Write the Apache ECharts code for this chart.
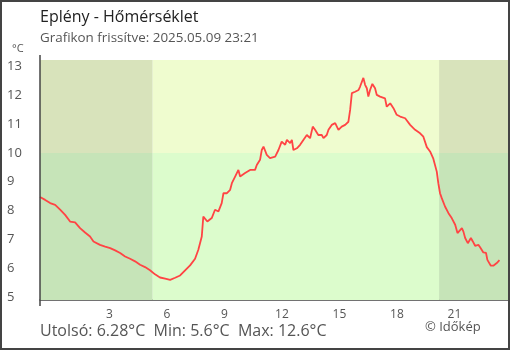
<!DOCTYPE html>
<html>
<head>
<meta charset="utf-8">
<script src="https://cdn.jsdelivr.net/npm/echarts@6/dist/echarts.min.js"></script>
<style>
  html, body { margin: 0; padding: 0; background: #fff; }
  #chart { width: 510px; height: 350px; }
</style>
</head>
<body>
<div id="chart"></div>
<script>
// Hours of the day (negative = previous evening) and temperature readings
const times = [
  -0.62, -0.35, -0.09, 0.17, 0.43, 0.69, 0.95, 1.21, 1.47, 1.73, 1.99, 2.17, 2.51, 2.78,
  3.04, 3.30, 3.56, 3.82, 4.08, 4.34, 4.60, 4.86, 5.12, 5.38, 5.64, 5.91, 6.17, 6.43,
  6.69, 6.95, 7.21, 7.47, 7.64, 7.82, 7.90, 7.99, 8.11, 8.34, 8.51, 8.69, 8.86, 8.95,
  9.12, 9.30, 9.39, 9.56, 9.73, 9.82, 10.08, 10.34, 10.60, 10.69, 10.86, 10.95, 11.04,
  11.21, 11.38, 11.65, 11.82, 11.99, 12.17, 12.26, 12.43, 12.52, 12.60, 12.78, 12.95,
  13.12, 13.30, 13.38, 13.47, 13.61, 13.73, 13.90, 14.08, 14.17, 14.34, 14.43, 14.60,
  14.78, 14.95, 15.12, 15.30, 15.47, 15.56, 15.65, 15.82, 15.91, 16.00, 16.08, 16.25,
  16.34, 16.43, 16.51, 16.60, 16.72, 16.86, 16.95, 17.12, 17.21, 17.38, 17.47, 17.65,
  17.82, 17.99, 18.17, 18.43, 18.69, 18.95, 19.21, 19.38, 19.56, 19.73, 19.90, 20.08,
  20.16, 20.25, 20.34, 20.51, 20.69, 20.86, 21.04, 21.16, 21.26, 21.39, 21.47, 21.56,
  21.70, 21.86, 21.96, 22.08, 22.25, 22.34, 22.51, 22.65, 22.72, 22.90, 23.03, 23.21, 23.35
];
const temps = [
  8.47, 8.37, 8.26, 8.20, 8.03, 7.85, 7.62, 7.59, 7.39, 7.24, 7.10, 6.93, 6.81, 6.75,
  6.70, 6.62, 6.53, 6.41, 6.33, 6.24, 6.12, 6.04, 5.93, 5.79, 5.68, 5.64, 5.60, 5.67,
  5.75, 5.93, 6.10, 6.33, 6.64, 7.10, 7.79, 7.83, 7.62, 7.74, 8.03, 7.97, 8.26, 8.60,
  8.60, 8.72, 8.95, 9.18, 9.41, 9.18, 9.30, 9.41, 9.41, 9.58, 9.76, 10.10, 10.22,
  9.93, 9.82, 9.87, 10.10, 10.39, 10.28, 10.45, 10.34, 10.45, 10.10, 10.16, 10.28,
  10.45, 10.62, 10.68, 10.51, 10.91, 10.80, 10.62, 10.62, 10.51, 10.62, 10.80, 10.97,
  11.03, 10.80, 10.91, 10.97, 11.08, 11.49, 12.07, 12.12, 12.07, 12.18, 12.30, 12.60,
  12.36, 12.24, 11.95, 12.18, 12.39, 12.24, 12.01, 11.95, 12.01, 11.89, 11.60, 11.72,
  11.55, 11.32, 11.26, 11.20, 10.97, 10.80, 10.68, 10.56, 10.20, 10.05, 9.80, 9.35,
  8.95, 8.60, 8.43, 8.14, 7.91, 7.74, 7.51, 7.22, 7.27, 7.39, 7.27, 7.05,
  6.87, 7.05, 6.93, 6.78, 6.81, 6.73, 6.55, 6.53, 6.29, 6.09, 6.09, 6.18, 6.28
];
const hourTicks = [3, 6, 9, 12, 15, 18, 21];
const tempTicks = [5, 6, 7, 8, 9, 10, 11, 12, 13];
const sunrise = 5.26;
const sunset = 20.2;
const warmLimit = 10;

const xMin = -0.62, xMax = 23.9;
const yMin = 4.9, yMax = 13.22;

const last = temps[temps.length - 1];
const minT = Math.min(...temps);
const maxT = Math.max(...temps);

const FONT = '"Open Sans", "Noto Sans", sans-serif';
const AXIS = '#444';

const chart = echarts.init(document.getElementById('chart'), null, { renderer: 'canvas' });

const band = (x0, x1, y0, y1, color) => [
  { coord: [x0, y0], itemStyle: { color: color } },
  { coord: [x1, y1] }
];

chart.setOption({
  animation: false,
  textStyle: { fontFamily: FONT },
  grid: { left: 40, right: 0, top: 60, bottom: 50, outerBoundsMode: 'none' },
  xAxis: {
    type: 'value', min: xMin, max: xMax,
    splitLine: { show: false },
    axisLine: { show: true, lineStyle: { color: AXIS, width: 1.5 } },
    axisTick: { show: true, inside: true, length: 6, customValues: hourTicks, lineStyle: { color: AXIS, width: 1 } },
    axisLabel: { customValues: hourTicks, color: '#555', fontSize: 12, margin: 9, fontFamily: FONT }
  },
  yAxis: [
    {
      type: 'value', min: yMin, max: yMax,
      splitLine: { show: false },
      axisLine: { show: false },
      axisTick: { show: true, inside: false, length: 6, customValues: tempTicks, lineStyle: { color: AXIS, width: 1 } },
      axisLabel: { customValues: tempTicks, color: '#555', fontSize: 13, align: 'left', margin: 33, fontFamily: FONT }
    },
    {
      type: 'value', min: yMin, max: yMax, position: 'left',
      splitLine: { show: false },
      axisLine: { show: false },
      axisTick: { show: true, inside: true, length: 6, customValues: tempTicks, lineStyle: { color: AXIS, width: 1 } },
      axisLabel: { show: false }
    }
  ],
  series: [
    {
      type: 'line', data: [], z: 1, silent: true,
      markArea: {
        silent: true,
        data: [
          band(xMin, sunrise, warmLimit, yMax, '#d8e3bb'),
          band(xMin, sunrise, yMin, warmLimit, '#c6e4b8'),
          band(sunrise, sunset, warmLimit, yMax, '#effccf'),
          band(sunrise, sunset, yMin, warmLimit, '#dcfccc'),
          band(sunset, xMax, warmLimit, yMax, '#d8e3bb'),
          band(sunset, xMax, yMin, warmLimit, '#c6e4b8')
        ]
      }
    },
    {
      type: 'line', z: 3,
      data: times.map((t, i) => [t, temps[i]]),
      showSymbol: false,
      lineStyle: { color: '#ff4444', width: 1.8 },
      itemStyle: { color: '#ff4444' }
    }
  ],
  graphic: [
    { type: 'line', shape: { x1: 40, y1: 55, x2: 40, y2: 306 }, style: { stroke: AXIS, lineWidth: 1.5 }, z: 10 },
    { type: 'text', left: 40, top: 9, style: { text: 'Eplény - Hőmérséklet', fill: '#222', font: '16px ' + FONT } },
    { type: 'text', left: 40, top: 32, style: { text: 'Grafikon frissítve: 2025.05.09 23:21', fill: '#555', font: '13.4px ' + FONT } },
    { type: 'text', left: 12, top: 43, style: { text: '°C', fill: '#555', font: '11px ' + FONT } },
    { type: 'text', left: 40, top: 323, style: {
        text: 'Utolsó: ' + last.toFixed(2) + '°C  Min: ' + minT.toFixed(1) + '°C  Max: ' + maxT.toFixed(1) + '°C',
        fill: '#555', font: '16px ' + FONT } },
    { type: 'text', left: 425, top: 321, style: { text: '© Időkép', fill: '#555', font: '13px ' + FONT } },
    { type: 'rect', shape: { x: 1, y: 1, width: 508, height: 348 }, style: { fill: 'none', stroke: '#444', lineWidth: 2 }, z: 20 }
  ]
});
</script>
</body>
</html>
